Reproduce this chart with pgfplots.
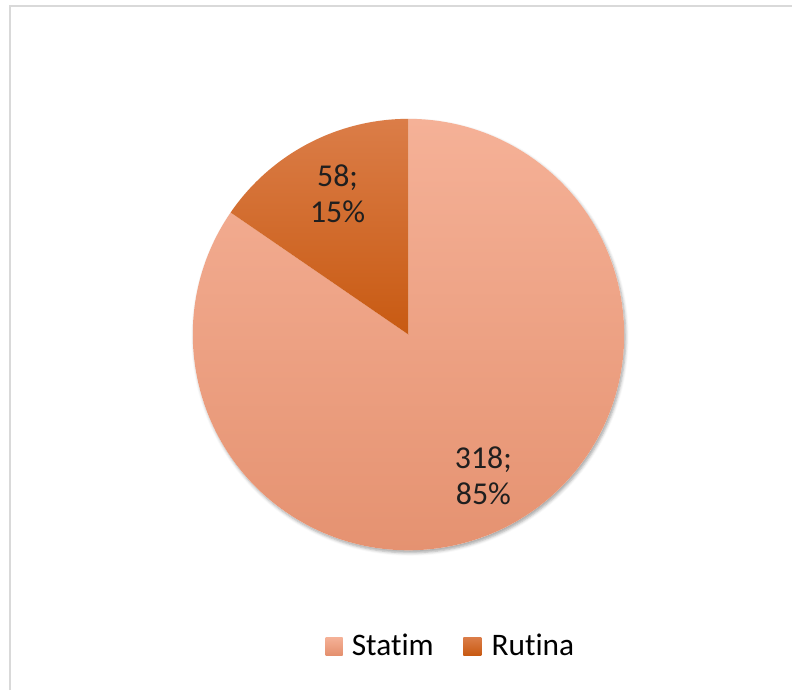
\documentclass[border=0pt]{standalone}
\usepackage{pgfplots}
\pgfplotsset{compat=1.18}
\usepackage{pgfplotstable}
\usetikzlibrary{shadows.blur}
\usepackage{fontspec}
\setmainfont{Carlito}[RawFeature={-liga;-dlig}]

\pgfplotstableread{
label value
Statim 318
Rutina 58
}\piedata

\definecolor{statimTop}{HTML}{F5B197}
\definecolor{statimBot}{HTML}{E4906E}
\definecolor{rutTop}{HTML}{DB7D48}
\definecolor{rutBot}{HTML}{C85A12}
\definecolor{frameC}{HTML}{D9D9D9}

\begin{document}
\begin{tikzpicture}
\pgfplotstablegetelem{0}{value}\of\piedata \edef\vS{\pgfplotsretval}
\pgfplotstablegetelem{1}{value}\of\piedata \edef\vR{\pgfplotsretval}
\pgfmathsetmacro{\tot}{\vS+\vR}
\pgfmathsetmacro{\fR}{\vR/\tot}
\pgfmathsetmacro{\fS}{\vS/\tot}
\pgfmathsetmacro{\angR}{90+360*\fR}
\pgfmathtruncatemacro{\pS}{round(100*\fS)}
\pgfmathtruncatemacro{\pR}{round(100*\fR)}
\begin{axis}[hide axis, scale only axis, width=793bp, height=691bp,
  xmin=0, xmax=793, ymin=0, ymax=691, clip=false]
\path (axis cs:0,0) rectangle (axis cs:793,691);
\draw[frameC, line width=2bp] (axis cs:10,0) -- (axis cs:10,685) -- (axis cs:793,685);
% shadow
\fill[white, blur shadow={shadow xshift=1.5bp, shadow yshift=-2.5bp, shadow blur radius=3bp, shadow opacity=35}]
  (axis cs:409,356) circle[radius=216bp];
% Statim slice
\shade[top color=statimTop, bottom color=statimBot]
  (axis cs:409,356) -- ++(\angR:216bp) arc[start angle=\angR, end angle=450, radius=216bp] -- cycle;
% Rutina slice
\shade[top color=rutTop, bottom color=rutBot]
  (axis cs:409,356) -- ++(90:216bp) arc[start angle=90, end angle=\angR, radius=216bp] -- cycle;
% labels
\node[align=center, font=\fontsize{32}{36}\selectfont, text=black!88]
  at (axis cs:338,497) {\vR;\\\pR\%};
\node[align=center, font=\fontsize{32}{36}\selectfont, text=black!88]
  at (axis cs:484,215) {\vS;\\\pS\%};
% legend
\shade[top color=statimTop, bottom color=statimBot] (axis cs:326,35) rectangle (axis cs:343,53);
\node[anchor=base west, inner sep=0pt, font=\fontsize{31.5}{36}\selectfont] at (axis cs:352,35) {Statim};
\shade[top color=rutTop, bottom color=rutBot] (axis cs:464,35) rectangle (axis cs:482,53);
\node[anchor=base west, inner sep=0pt, font=\fontsize{31.5}{36}\selectfont] at (axis cs:492,35) {Rutina};
\end{axis}
\end{tikzpicture}
\end{document}
